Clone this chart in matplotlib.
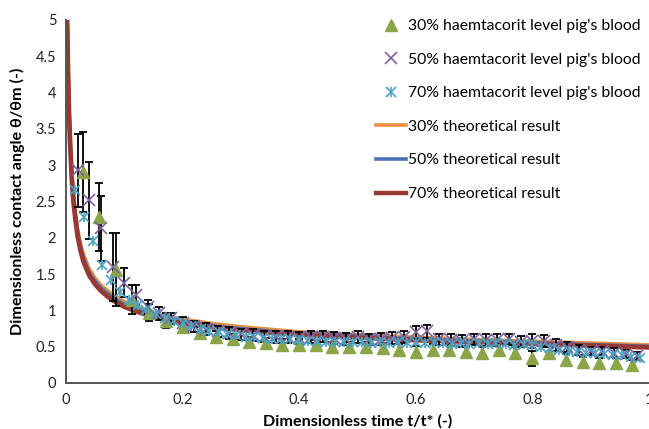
import matplotlib
matplotlib.use("Agg")
import matplotlib.pyplot as plt
from matplotlib.lines import Line2D
from matplotlib.legend_handler import HandlerTuple

plt.rcParams['font.family'] = ['Lato', 'DejaVu Sans']

# --- measured contact angle, 30% haematocrit ---
t30 = [0.029, 0.057, 0.086, 0.114, 0.143, 0.171, 0.200, 0.229, 0.257, 0.286,
       0.314, 0.343, 0.371, 0.400, 0.429, 0.457, 0.486, 0.514, 0.543, 0.571,
       0.600, 0.629, 0.657, 0.686, 0.714, 0.743, 0.771, 0.800, 0.829, 0.857,
       0.886, 0.914, 0.943, 0.971]
theta30 = [2.91, 2.29, 1.56, 1.15, 0.97, 0.86, 0.77, 0.69, 0.64, 0.60,
           0.57, 0.55, 0.53, 0.53, 0.52, 0.50, 0.50, 0.50, 0.48, 0.46,
           0.43, 0.46, 0.46, 0.43, 0.41, 0.46, 0.41, 0.34, 0.41, 0.32,
           0.29, 0.27, 0.27, 0.25]
err30 = [0.55, 0.47, 0.50, 0.20, 0.12, 0.10, 0.08, 0.08, 0.07, 0.07,
         0.07, 0.07, 0.07, 0.07, 0.07, 0.07, 0.07, 0.07, 0.07, 0.08,
         0.08, 0.08, 0.08, 0.08, 0.08, 0.08, 0.08, 0.10, 0.08, 0.08,
         0.07, 0.07, 0.07, 0.07]

# --- measured contact angle, 50% haematocrit ---
t50 = [0.02, 0.04, 0.06, 0.08, 0.10, 0.12, 0.14, 0.16, 0.18, 0.20,
       0.22, 0.24, 0.26, 0.28, 0.30, 0.32, 0.34, 0.36, 0.38, 0.40,
       0.42, 0.44, 0.46, 0.48, 0.50, 0.52, 0.54, 0.56, 0.58, 0.60,
       0.62, 0.64, 0.66, 0.68, 0.70, 0.72, 0.74, 0.76, 0.78, 0.80,
       0.82, 0.84, 0.86, 0.88, 0.90, 0.92, 0.94, 0.96, 0.98]
theta50 = [2.93, 2.52, 2.13, 1.60, 1.38, 1.21, 1.05, 0.96, 0.89, 0.83,
           0.78, 0.74, 0.71, 0.69, 0.67, 0.66, 0.64, 0.63, 0.63, 0.62,
           0.63, 0.64, 0.62, 0.61, 0.63, 0.60, 0.61, 0.62, 0.63, 0.70,
           0.71, 0.60, 0.59, 0.58, 0.60, 0.59, 0.59, 0.60, 0.57, 0.58,
           0.58, 0.52, 0.50, 0.46, 0.44, 0.44, 0.42, 0.40, 0.37]
err50 = [0.50, 0.53, 0.45, 0.47, 0.20, 0.14, 0.10, 0.09, 0.08, 0.08,
         0.08, 0.08, 0.08, 0.08, 0.08, 0.08, 0.08, 0.08, 0.08, 0.08,
         0.08, 0.08, 0.08, 0.08, 0.08, 0.08, 0.08, 0.08, 0.08, 0.09,
         0.09, 0.08, 0.08, 0.08, 0.08, 0.08, 0.08, 0.08, 0.08, 0.10,
         0.08, 0.08, 0.07, 0.07, 0.06, 0.06, 0.06, 0.06, 0.06]

# --- measured contact angle, 70% haematocrit ---
t70 = [0.015, 0.031, 0.046, 0.062, 0.077, 0.092, 0.108, 0.123, 0.138, 0.154,
       0.169, 0.185, 0.200, 0.215, 0.231, 0.246, 0.262, 0.277, 0.292, 0.308,
       0.323, 0.338, 0.354, 0.369, 0.385, 0.400, 0.415, 0.431, 0.446, 0.462,
       0.477, 0.492, 0.508, 0.523, 0.538, 0.554, 0.569, 0.585, 0.600, 0.615,
       0.631, 0.646, 0.662, 0.677, 0.692, 0.708, 0.723, 0.738, 0.754, 0.769,
       0.785, 0.800, 0.815, 0.831, 0.846, 0.862, 0.877, 0.892, 0.908, 0.923,
       0.938, 0.954, 0.969, 0.985]
theta70 = [2.66, 2.29, 1.95, 1.63, 1.42, 1.26, 1.14, 1.07, 1.00, 0.95,
           0.90, 0.86, 0.82, 0.78, 0.75, 0.72, 0.70, 0.68, 0.66, 0.64,
           0.63, 0.62, 0.61, 0.60, 0.60, 0.59, 0.58, 0.58, 0.57, 0.57,
           0.56, 0.56, 0.57, 0.55, 0.56, 0.55, 0.56, 0.55, 0.57, 0.55,
           0.56, 0.55, 0.54, 0.55, 0.54, 0.55, 0.54, 0.55, 0.54, 0.53,
           0.54, 0.52, 0.50, 0.48, 0.46, 0.44, 0.43, 0.42, 0.41, 0.40,
           0.39, 0.38, 0.36, 0.34]

# --- theoretical curves ---
t_th = [0.002, 0.003, 0.004, 0.005, 0.007, 0.010, 0.013, 0.016, 0.020, 0.025,
        0.030, 0.040, 0.050, 0.060, 0.070, 0.080, 0.100, 0.130, 0.160, 0.200,
        0.250, 0.300, 0.350, 0.400, 0.500, 0.600, 0.700, 0.800, 0.900, 1.000]
th30 = [5.00, 4.60, 4.20, 3.85, 3.40, 2.90, 2.58, 2.36, 2.12, 1.92,
        1.77, 1.57, 1.44, 1.35, 1.28, 1.22, 1.12, 1.02, 0.95, 0.88,
        0.82, 0.775, 0.74, 0.705, 0.665, 0.63, 0.60, 0.575, 0.55, 0.525]
th50 = [5.00, 4.55, 4.15, 3.80, 3.35, 2.85, 2.53, 2.31, 2.07, 1.87,
        1.72, 1.52, 1.40, 1.31, 1.24, 1.18, 1.08, 0.99, 0.92, 0.85,
        0.79, 0.75, 0.715, 0.685, 0.645, 0.61, 0.58, 0.555, 0.53, 0.505]
th70 = [5.00, 4.50, 4.10, 3.75, 3.30, 2.80, 2.48, 2.26, 2.02, 1.82,
        1.67, 1.48, 1.36, 1.27, 1.20, 1.14, 1.05, 0.96, 0.89, 0.82,
        0.77, 0.73, 0.695, 0.665, 0.625, 0.59, 0.565, 0.54, 0.515, 0.49]

xticks = [0, 0.2, 0.4, 0.6, 0.8, 1]
xticklabels = ['0', '0.2', '0.4', '0.6', '0.8', '1']
yticks = [0, 0.5, 1, 1.5, 2, 2.5, 3, 3.5, 4, 4.5, 5]
yticklabels = ['0', '0.5', '1', '1.5', '2', '2.5', '3', '3.5', '4', '4.5', '5']

c_tri = '#8BA548'
c_x = '#7E62A0'
c_ast = '#4BA3C3'
c_or = '#E8903F'
c_bl = '#4A72B4'
c_rd = '#973833'

fig = plt.figure(figsize=(6.49, 4.29), dpi=100)
ax = fig.add_axes([66 / 649, 1 - 383 / 429, (649 - 66) / 649, (383 - 20) / 429])

# theory lines underneath the measured points
ax.plot(t_th, th30, color=c_or, lw=2.6, solid_capstyle='round', zorder=2)
ax.plot(t_th, th50, color=c_bl, lw=2.6, solid_capstyle='round', zorder=2.1)
ax.plot(t_th, th70, color=c_rd, lw=3.4, solid_capstyle='round', zorder=2.2)

# error bars
ax.errorbar(t30, theta30, yerr=err30, fmt='none', ecolor='black',
            elinewidth=1.3, capsize=3, capthick=1.3, zorder=3)
ax.errorbar(t50, theta50, yerr=err50, fmt='none', ecolor='black',
            elinewidth=1.3, capsize=3, capthick=1.3, zorder=3)

# measured points
ax.plot(t30, theta30, ls='none', marker='^', ms=8, color=c_tri, zorder=4)
ax.plot(t50, theta50, ls='none', marker='x', ms=8, mew=1.2, color=c_x, zorder=5)
ax.plot(t70, theta70, ls='none', marker='x', ms=7.5, mew=1.2, color=c_ast, zorder=6)
ax.plot(t70, theta70, ls='none', marker='|', ms=7.5, mew=1.2, color=c_ast, zorder=6)

ax.set_xlim(0, 1)
ax.set_ylim(0, 5)
ax.set_xticks(xticks)
ax.set_xticklabels(xticklabels)
ax.set_yticks(yticks)
ax.set_yticklabels(yticklabels)
ax.tick_params(length=0, labelsize=10.5, colors='#222222', pad=7)

for side in ['top', 'right']:
    ax.spines[side].set_visible(False)
for side in ['left', 'bottom']:
    ax.spines[side].set_color('#555555')
    ax.spines[side].set_linewidth(1.4)

ax.set_xlabel('Dimensionless time t/t* (-)', fontsize=11.6, fontweight='bold', labelpad=5)
ax.set_ylabel('Dimensionless contact angle θ/θm (-)', fontsize=11.6, fontweight='bold', labelpad=8)

# legend entries
h_tri = Line2D([], [], ls='none', marker='^', ms=8, color=c_tri)
h_x = Line2D([], [], ls='none', marker='x', ms=8, mew=1.2, color=c_x)
h_a1 = Line2D([], [], ls='none', marker='x', ms=7.5, mew=1.2, color=c_ast)
h_a2 = Line2D([], [], ls='none', marker='|', ms=7.5, mew=1.2, color=c_ast)
h_l30 = Line2D([], [], color=c_or, lw=2.6)
h_l50 = Line2D([], [], color=c_bl, lw=2.6)
h_l70 = Line2D([], [], color=c_rd, lw=3.2)

fig.legend([h_tri, h_x, (h_a1, h_a2), h_l30, h_l50, h_l70],
           ["30% haemtacorit level pig's blood",
            "50% haemtacorit level pig's blood",
            "70% haemtacorit level pig's blood",
            '30% theoretical result',
            '50% theoretical result',
            '70% theoretical result'],
           handler_map={tuple: HandlerTuple(ndivide=1, pad=0)},
           loc='upper left', bbox_to_anchor=(376 / 649, 1 - 19 / 429),
           frameon=False, fontsize=11.3, handlelength=1.9, handletextpad=0.15,
           labelspacing=1.25, borderpad=0, borderaxespad=0)

fig.savefig('out.png', dpi=100)
